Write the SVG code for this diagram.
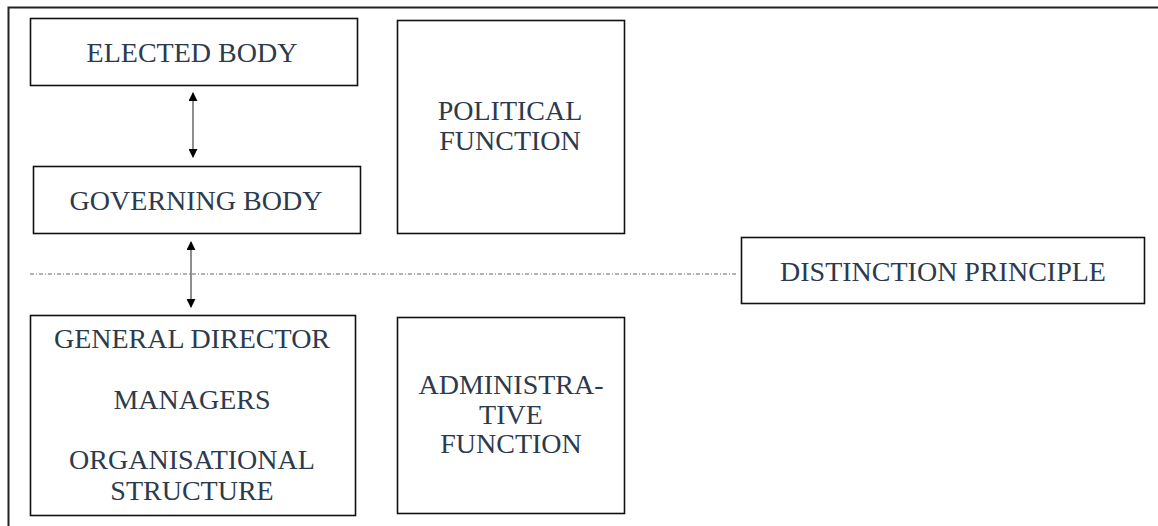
<svg xmlns="http://www.w3.org/2000/svg" width="1158" height="526" viewBox="0 0 1158 526">
<defs>
<style>
.box{fill:#fff;stroke:#111;stroke-width:1.6}
.t{font-family:'Liberation Serif','Times New Roman',serif;font-size:28px;fill:#2d3a4d;text-anchor:middle}
.arr{stroke:#444;stroke-width:1.2;fill:none;marker-start:url(#ah);marker-end:url(#ah)}
</style>
<marker id="ah" viewBox="0 0 10 10" refX="9" refY="5" markerWidth="9" markerHeight="9" markerUnits="userSpaceOnUse" orient="auto-start-reverse">
<path d="M0,0 L10,5 L0,10 z" fill="#000"/>
</marker>
</defs>
<rect width="1158" height="526" fill="#fff"/>
<g id="frame">
<path d="M1158,7.5 H8.5 V526" fill="none" stroke="#222" stroke-width="2"/>
</g>
<g id="n-elected"><rect class="box" x="30.5" y="18.5" width="327" height="67"/><text class="t" x="192" y="62">ELECTED BODY</text></g>
<g id="n-governing"><rect class="box" x="33.5" y="166.5" width="327" height="67"/><text class="t" x="196" y="210">GOVERNING BODY</text></g>
<g id="n-political"><rect class="box" x="397.5" y="20.5" width="227" height="213"/><text class="t" x="510" y="120">POLITICAL</text><text class="t" x="510" y="150">FUNCTION</text></g>
<g id="n-distinction"><rect class="box" x="741.5" y="237.5" width="403" height="66"/><text class="t" x="943" y="281">DISTINCTION PRINCIPLE</text></g>
<g id="n-general"><rect class="box" x="30.5" y="315.5" width="325" height="200"/><text class="t" x="192" y="348">GENERAL DIRECTOR</text><text class="t" x="192" y="409">MANAGERS</text><text class="t" x="192" y="469">ORGANISATIONAL</text><text class="t" x="192" y="500">STRUCTURE</text></g>
<g id="n-admin"><rect class="box" x="397.5" y="317.5" width="227" height="196"/><text class="t" x="511" y="394">ADMINISTRA-</text><text class="t" x="511" y="424">TIVE</text><text class="t" x="511" y="453">FUNCTION</text></g>
<g id="connectors">
<line class="arr" x1="193" y1="93" x2="193" y2="157"/>
<line class="arr" x1="191" y1="242" x2="191" y2="307"/>
<line x1="30" y1="274" x2="737" y2="274" stroke="#666" stroke-width="1" stroke-dasharray="4,2,1,2"/>
</g>
</svg>
